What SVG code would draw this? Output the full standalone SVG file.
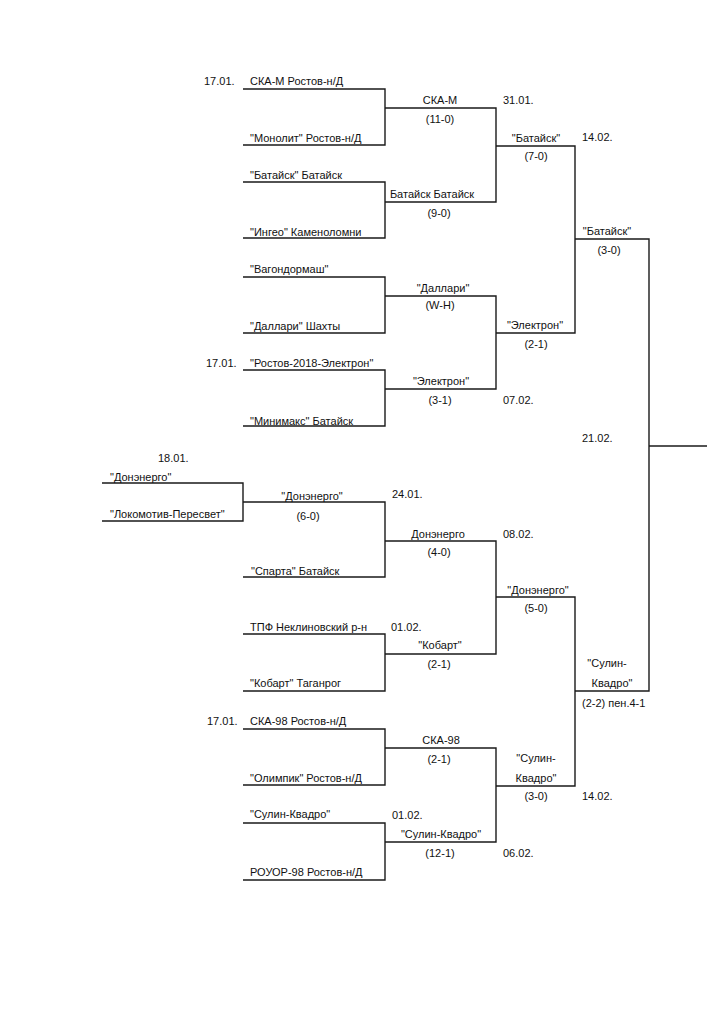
<svg xmlns="http://www.w3.org/2000/svg" width="723" height="1024" viewBox="0 0 723 1024">
<style>
text{font-family:"Liberation Sans",Arial,sans-serif;font-size:11px;fill:#111}
.c{text-anchor:middle}
.ln{fill:none;stroke:#1a1a1a;stroke-width:1.4}
</style>
<rect width="723" height="1024" fill="#fff"/>
<g id="connectors" class="ln">
<path d="M243 89H385V145H243"/>
<path d="M243 182H385V238H243"/>
<path d="M243 277H385V333H243"/>
<path d="M243 370H385V426H243"/>
<path d="M385 108H496V202H385"/>
<path d="M385 296H496V389H385"/>
<path d="M496 146H575V333H496"/>
<path d="M575 239H649V691H575"/>
<path d="M649 446H707"/>
<path d="M102 483H243V521H102"/>
<path d="M243 502H385V577H243"/>
<path d="M385 541H496V654H385"/>
<path d="M243 634H385V691H243"/>
<path d="M496 597H575V786H496"/>
<path d="M243 729H385V785H243"/>
<path d="M385 748H496V842H385"/>
<path d="M243 823H385V880H243"/>
</g>
<g id="r1-top">
<text x="204" y="85">17.01.</text>
<text x="250" y="85">СКА-М Ростов-н/Д</text>
<text x="250" y="142">"Монолит" Ростов-н/Д</text>
<text x="250" y="179">"Батайск" Батайск</text>
<text x="250" y="236">"Ингео" Каменоломни</text>
<text x="250" y="273">"Вагондормаш"</text>
<text x="250" y="330">"Даллари" Шахты</text>
<text x="206" y="367">17.01.</text>
<text x="250" y="367">"Ростов-2018-Электрон"</text>
<text x="250" y="425">"Минимакс" Батайск</text>
</g>
<g id="r2-top">
<text class="c" x="440" y="104">СКА-М</text>
<text class="c" x="440" y="123">(11-0)</text>
<text x="503" y="104">31.01.</text>
<text class="c" x="432" y="198">Батайск Батайск</text>
<text class="c" x="439" y="217">(9-0)</text>
<text class="c" x="443" y="292">"Даллари"</text>
<text class="c" x="440" y="309">(W-H)</text>
<text class="c" x="441" y="385">"Электрон"</text>
<text class="c" x="440" y="404">(3-1)</text>
<text x="503" y="404">07.02.</text>
</g>
<g id="r3-top">
<text class="c" x="536" y="142">"Батайск"</text>
<text class="c" x="536" y="160">(7-0)</text>
<text class="c" x="535" y="329">"Электрон"</text>
<text class="c" x="536" y="348">(2-1)</text>
</g>
<g id="r4-top">
<text x="582" y="141">14.02.</text>
<text class="c" x="607" y="235">"Батайск"</text>
<text class="c" x="609" y="254">(3-0)</text>
<text x="582" y="442">21.02.</text>
</g>
<g id="r0-bottom">
<text x="158" y="462">18.01.</text>
<text x="110" y="481">"Донэнерго"</text>
<text x="110" y="518">"Локомотив-Пересвет"</text>
</g>
<g id="r1-bottom">
<text class="c" x="312" y="500">"Донэнерго"</text>
<text class="c" x="308" y="520">(6-0)</text>
<text x="392" y="498">24.01.</text>
<text x="251" y="575">"Спарта" Батайск</text>
<text x="250" y="631">ТПФ Неклиновский р-н</text>
<text x="391" y="631">01.02.</text>
<text x="250" y="687">"Кобарт" Таганрог</text>
<text x="207" y="725">17.01.</text>
<text x="250" y="725">СКА-98 Ростов-н/Д</text>
<text x="250" y="782">"Олимпик" Ростов-н/Д</text>
<text x="250" y="818">"Сулин-Квадро"</text>
<text x="392" y="819">01.02.</text>
<text x="250" y="876">РОУОР-98 Ростов-н/Д</text>
</g>
<g id="r2-bottom">
<text class="c" x="438" y="538">Донэнерго</text>
<text class="c" x="439" y="556">(4-0)</text>
<text x="503" y="538">08.02.</text>
<text class="c" x="440" y="649">"Кобарт"</text>
<text class="c" x="439" y="668">(2-1)</text>
<text class="c" x="441" y="744">СКА-98</text>
<text class="c" x="439" y="763">(2-1)</text>
<text class="c" x="441" y="838">"Сулин-Квадро"</text>
<text class="c" x="440" y="857">(12-1)</text>
<text x="503" y="857">06.02.</text>
</g>
<g id="r3-bottom">
<text class="c" x="538" y="594">"Донэнерго"</text>
<text class="c" x="536" y="612">(5-0)</text>
<text class="c" x="536" y="762">"Сулин-</text>
<text class="c" x="536" y="782">Квадро"</text>
<text class="c" x="536" y="800">(3-0)</text>
</g>
<g id="r4-bottom">
<text class="c" x="607" y="667">"Сулин-</text>
<text class="c" x="612" y="687">Квадро"</text>
<text x="582" y="707">(2-2) пен.4-1</text>
<text x="582" y="800">14.02.</text>
</g>
</svg>
